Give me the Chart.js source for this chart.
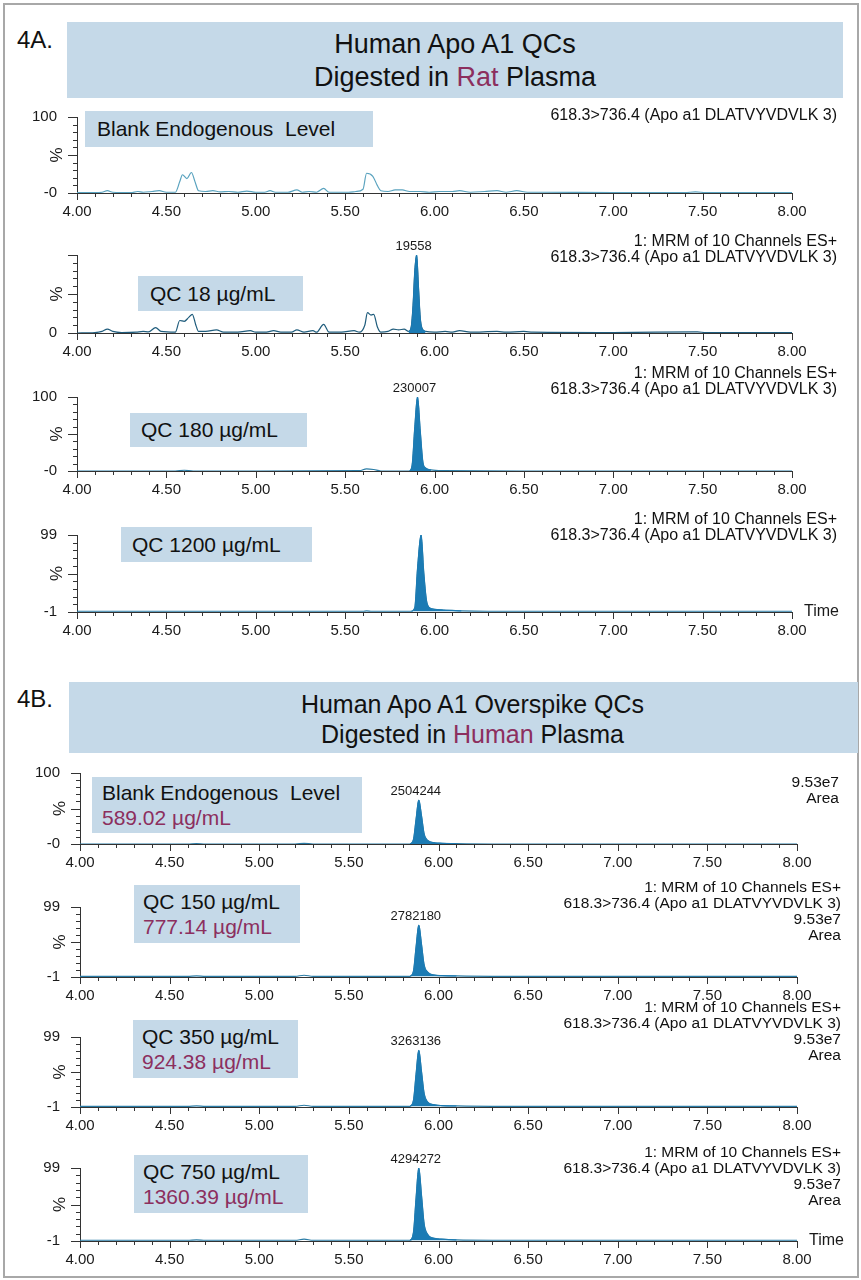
<!DOCTYPE html>
<html>
<head>
<meta charset="utf-8">
<script src="https://cdn.jsdelivr.net/npm/chart.js@4/dist/chart.umd.min.js"></script>
<style>
  body { margin: 0; background: #fff; }
  #page { position: relative; width: 861px; height: 1280px; font-family: "Liberation Sans", Arial, sans-serif; color: #111; overflow: hidden; }
  .frame { position: absolute; left: 3px; top: 3px; width: 852px; height: 1271px; border: 2px solid #a8a8a8; }
  .tag { position: absolute; font-size: 24px; line-height: 26px; }
  .titlebox { position: absolute; background: #c5d9e8; text-align: center; }
  .plum { color: #8c2f5e; }
  .lbl { position: absolute; background: #c5d9e8; font-size: 21px; box-sizing: border-box; }
  .note { position: absolute; text-align: right; line-height: 16px; white-space: nowrap; }
  canvas { position: absolute; }
</style>
</head>
<body>
<div id="page">
  <div class="frame"></div>

  <div class="tag" style="left:17px;top:27px">4A.</div>
  <div class="titlebox" style="left:67px;top:22px;width:776px;height:76px;font-size:27px;line-height:33px;padding-top:6px;box-sizing:border-box">
    <div>Human Apo A1 QCs</div>
    <div>Digested in <span class="plum">Rat</span> Plasma</div>
  </div>

  <div class="tag" style="left:17px;top:686px">4B.</div>
  <div class="titlebox" style="left:69px;top:682px;width:789px;height:71px;font-size:25px;line-height:30px;padding-top:7px;padding-left:18px;box-sizing:border-box">
    <div>Human Apo A1 Overspike QCs</div>
    <div>Digested in <span class="plum">Human</span> Plasma</div>
  </div>
</div>

<script>
// retention time (min) and relative intensity (%)
const P1_TIME = [4.00, 4.10, 4.14, 4.17, 4.20, 4.30, 4.34, 4.37, 4.42, 4.46, 4.50, 4.55, 4.575, 4.59, 4.615, 4.64, 4.66, 4.68, 4.72, 4.76, 4.80, 4.85, 4.90, 4.95, 5.00, 5.05, 5.08, 5.11, 5.18, 5.23, 5.26, 5.30, 5.34, 5.38, 5.41, 5.47, 5.52, 5.56, 5.60, 5.62, 5.655, 5.68, 5.70, 5.74, 5.78, 5.82, 5.86, 5.92, 5.97, 6.03, 6.10, 6.14, 6.20, 6.28, 6.35, 6.40, 6.46, 6.52, 6.60, 7.00, 7.40, 7.46, 7.52, 8.00];
const P1_PCT  = [0.5, 0.5, 1, 3, 1, 0.5, 2, 1, 2, 3, 1, 1, 15, 24, 19, 27, 15, 3, 2, 3, 1.5, 2, 1, 2.5, 1, 1, 3, 1, 1, 4, 1, 2, 1, 6, 1, 1, 1, 2, 5, 26, 22, 10, 3, 2, 4, 4, 2, 2, 1, 2, 2, 3, 1, 2, 3, 1, 3, 1, 1, 0.5, 0.5, 1.5, 0.5, 0.5];

const P2_TIME = [4.00, 4.10, 4.14, 4.17, 4.20, 4.25, 4.33, 4.37, 4.40, 4.44, 4.47, 4.55, 4.575, 4.60, 4.625, 4.645, 4.665, 4.68, 4.72, 4.78, 4.82, 4.90, 4.97, 5.00, 5.06, 5.10, 5.14, 5.20, 5.23, 5.27, 5.32, 5.34, 5.38, 5.41, 5.48, 5.55, 5.58, 5.61, 5.625, 5.645, 5.66, 5.68, 5.70, 5.74, 5.77, 5.80, 5.83, 5.855, 5.87, 5.88, 5.89, 5.90, 5.91, 5.92, 5.93, 5.95, 6.00, 6.06, 6.10, 6.14, 6.20, 6.35, 6.40, 6.50, 6.55, 7.00, 7.47, 7.52, 8.00];
const P2_PCT  = [0, 0.5, 2, 5, 2, 0.5, 1, 2, 1.5, 7, 2, 1, 16, 15, 20, 24, 10, 2, 2, 4, 1, 1, 3, 1, 1, 3, 1, 1, 4, 1, 3, 1, 11, 1, 1, 3, 1, 10, 26, 23, 24, 8, 1, 2, 5, 4, 5, 2, 8, 35, 80, 100, 60, 20, 6, 2, 1, 2, 1, 3, 1, 2, 1, 2, 1, 0.5, 1.5, 0.5, 0.5];

const P3_TIME = [4.00, 4.55, 4.60, 4.65, 5.00, 5.58, 5.62, 5.66, 5.70, 5.86, 5.875, 5.89, 5.905, 5.92, 5.935, 5.95, 5.98, 6.05, 6.50, 8.00];
const P3_PCT  = [0, 0, 1, 0, 0, 0.5, 3, 2, 0, 0, 8, 60, 100, 55, 12, 4, 1.5, 0.5, 0, 0];

const P4_TIME = [4.00, 5.00, 5.60, 5.62, 5.65, 5.87, 5.89, 5.905, 5.925, 5.94, 5.955, 5.97, 6.00, 6.05, 6.10, 6.15, 6.30, 8.00];
const P4_PCT  = [0, 0, 0, 0.5, 0, 0, 5, 55, 99, 50, 14, 5, 2.5, 1.5, 1, 0.5, 0, 0];

const P5_TIME = [4.00, 4.60, 4.65, 4.70, 5.20, 5.25, 5.30, 5.84, 5.86, 5.875, 5.89, 5.905, 5.92, 5.94, 5.97, 6.02, 6.10, 6.30, 8.00];
const P5_PCT  = [0, 0, 0.5, 0, 0, 1, 0, 0, 6, 35, 62, 40, 14, 5, 2, 1, 0.5, 0, 0];

const P6_TIME = [4.00, 4.60, 4.65, 4.70, 5.20, 5.25, 5.30, 5.84, 5.86, 5.875, 5.89, 5.905, 5.92, 5.94, 5.97, 6.02, 6.10, 6.30, 8.00];
const P6_PCT  = [0, 0, 0.5, 0, 0, 1.5, 0, 0, 7, 42, 73, 46, 16, 6, 2, 1, 0.5, 0, 0];

const P7_TIME = [4.00, 4.60, 4.65, 4.70, 5.20, 5.25, 5.30, 5.84, 5.86, 5.875, 5.89, 5.905, 5.92, 5.94, 5.97, 6.02, 6.10, 6.30, 8.00];
const P7_PCT  = [0, 0, 0.5, 0, 0, 1.5, 0, 0, 8, 46, 80, 50, 18, 6, 2.5, 1, 0.5, 0, 0];

const P8_TIME = [4.00, 4.60, 4.65, 4.70, 5.20, 5.25, 5.30, 5.84, 5.86, 5.875, 5.89, 5.905, 5.92, 5.94, 5.97, 6.02, 6.10, 6.30, 8.00];
const P8_PCT  = [0, 0, 0.5, 0, 0, 1.5, 0, 0, 10, 58, 99, 62, 22, 8, 3, 1.5, 0.5, 0, 0];

const X_MIN = 4, X_MAX = 8, X_STEP = 0.1;

const FONT = '"Liberation Sans", Arial, sans-serif';
const INK = "#1a1a1a";
const AXIS = "#333";
const FILL = "#1b7bb4";
const LIGHT = "#5aa3bf";
const DARK = "#1f5c7c";
const MID = "#2a7ca6";

const panels = [
  { times: P1_TIME, values: P1_PCT, top: 117, bottom: 193, left: 77, right: 792, yMin: 0, yMax: 100, minLabel: "-0", maxLabel: "100", line: LIGHT },
  { times: P2_TIME, values: P2_PCT, top: 255, bottom: 333, left: 77, right: 792, yMin: 0, yMax: 100, minLabel: "0", maxLabel: "", line: DARK, peak: [5.855, 5.96], peakText: "19558" },
  { times: P3_TIME, values: P3_PCT, top: 397, bottom: 471, left: 77, right: 792, yMin: 0, yMax: 100, minLabel: "-0", maxLabel: "100", line: MID, peak: [5.86, 6.0], peakText: "230007" },
  { times: P4_TIME, values: P4_PCT, top: 535, bottom: 612, left: 77, right: 792, yMin: -1, yMax: 99, minLabel: "-1", maxLabel: "99", line: MID, peak: [5.87, 6.15], time: true },
  { times: P5_TIME, values: P5_PCT, top: 773, bottom: 844, left: 80, right: 797, yMin: 0, yMax: 100, minLabel: "-0", maxLabel: "100", line: MID, peak: [5.84, 6.10], peakText: "2504244" },
  { times: P6_TIME, values: P6_PCT, top: 907, bottom: 977, left: 80, right: 797, yMin: -1, yMax: 99, minLabel: "-1", maxLabel: "99", line: MID, peak: [5.84, 6.10], peakText: "2782180" },
  { times: P7_TIME, values: P7_PCT, top: 1037, bottom: 1107, left: 80, right: 797, yMin: -1, yMax: 99, minLabel: "-1", maxLabel: "99", line: MID, peak: [5.84, 6.10], peakText: "3263136" },
  { times: P8_TIME, values: P8_PCT, top: 1168, bottom: 1241, left: 80, right: 797, yMin: -1, yMax: 99, minLabel: "-1", maxLabel: "99", line: MID, peak: [5.84, 6.10], peakText: "4294272", time: true }
];

// sample label boxes and the instrument text at the right of every trace
const boxes = [
  { x: 85, y: 111, w: 288, h: 36, pad: 12, lines: ["Blank Endogenous&nbsp; Level"] },
  { x: 138, y: 276, w: 165, h: 35, pad: 12, lines: ["QC 18 µg/mL"] },
  { x: 130, y: 413, w: 177, h: 34, pad: 11, lines: ["QC 180 µg/mL"] },
  { x: 121, y: 527, w: 191, h: 35, pad: 11, lines: ["QC 1200 µg/mL"] },
  { x: 92, y: 777, w: 270, h: 56, pad: 10, lines: ["Blank Endogenous&nbsp; Level", "589.02 µg/mL"] },
  { x: 134, y: 885, w: 166, h: 58, pad: 9, lines: ["QC 150 µg/mL", "777.14 µg/mL"] },
  { x: 133, y: 1020, w: 165, h: 58, pad: 9, lines: ["QC 350 µg/mL", "924.38 µg/mL"] },
  { x: 134, y: 1155, w: 174, h: 58, pad: 9, lines: ["QC 750 µg/mL", "1360.39 µg/mL"] }
];
const MRM = "1: MRM of 10 Channels ES+";
const SRM = "618.3&gt;736.4 (Apo a1 DLATVYVDVLK 3)";
const notes = [
  { right: 24, y: 107, size: 16, lines: [SRM] },
  { right: 24, y: 233, size: 16, lines: [MRM, SRM] },
  { right: 24, y: 365, size: 16, lines: [MRM, SRM] },
  { right: 24, y: 511, size: 16, lines: [MRM, SRM] },
  { right: 22, y: 774, size: 15.5, lines: ["9.53e7", "Area"] },
  { right: 20, y: 879, size: 15.5, lines: [MRM, SRM, "9.53e7", "Area"] },
  { right: 20, y: 999, size: 15.5, lines: [MRM, SRM, "9.53e7", "Area"] },
  { right: 20, y: 1144, size: 15.5, lines: [MRM, SRM, "9.53e7", "Area"] }
];

const page = document.getElementById("page");

function isHalf(v) {
  return Math.abs(v * 2 - Math.round(v * 2)) < 1e-6;
}

// tick marks of different lengths, the rotated % sign and the "Time" tag
const axisTicks = {
  id: "axisTicks",
  afterDraw(chart, args, opts) {
    const { ctx, chartArea, scales: { x, y } } = chart;
    ctx.save();
    ctx.strokeStyle = AXIS;
    ctx.lineWidth = 1;
    ctx.beginPath();
    x.ticks.forEach((t) => {
      const px = Math.round(x.getPixelForValue(t.value)) + 0.5;
      const len = isHalf(t.value) ? 7 : 4;
      ctx.moveTo(px, chartArea.bottom);
      ctx.lineTo(px, chartArea.bottom + len);
    });
    y.ticks.forEach((t) => {
      const py = Math.round(y.getPixelForValue(t.value)) + 0.5;
      const k = Math.round(t.value - y.min);
      const len = k % 50 === 0 ? 9 : 4;
      ctx.moveTo(chartArea.left, py);
      ctx.lineTo(chartArea.left - len, py);
    });
    ctx.stroke();

    ctx.fillStyle = INK;
    ctx.font = "17px " + FONT;
    ctx.textAlign = "center";
    ctx.textBaseline = "middle";
    ctx.save();
    ctx.translate(chartArea.left - 20, (chartArea.top + chartArea.bottom) / 2);
    ctx.rotate(-Math.PI / 2);
    ctx.fillText("%", 0, 0);
    ctx.restore();

    if (opts.time) {
      ctx.font = "16px " + FONT;
      ctx.textAlign = "left";
      ctx.fillText("Time", chartArea.right + 12, chartArea.bottom);
    }
    ctx.restore();
  }
};

// peak area value written above the apex of the integrated peak
const peakLabel = {
  id: "peakLabel",
  afterDatasetsDraw(chart, args, opts) {
    if (!opts.text) return;
    const pts = chart.data.datasets[0].data;
    if (!pts.length) return;
    let k = 0;
    pts.forEach((d, i) => { if (d.y > pts[k].y) k = i; });
    const el = chart.getDatasetMeta(0).data[k];
    const ctx = chart.ctx;
    ctx.save();
    ctx.fillStyle = INK;
    ctx.font = "13px " + FONT;
    ctx.textAlign = "center";
    ctx.textBaseline = "bottom";
    ctx.fillText(opts.text, el.x - 3, el.y - 2);
    ctx.restore();
  }
};

function makePanel(p) {
  const padTop = 22, axisH = 32;
  const c = document.createElement("canvas");
  c.width = 861;
  c.height = padTop + (p.bottom - p.top) + axisH;
  c.style.left = "0px";
  c.style.top = (p.top - padTop) + "px";
  page.appendChild(c);

  const pts = p.times.map((t, i) => ({ x: t, y: p.values[i] }));
  const peakPts = p.peak ? pts.filter((q) => q.x >= p.peak[0] && q.x <= p.peak[1]) : [];

  new Chart(c, {
    type: "line",
    data: {
      datasets: [
        { data: peakPts, borderColor: FILL, backgroundColor: FILL, borderWidth: 1, fill: "origin", pointRadius: 0, cubicInterpolationMode: "monotone" },
        { data: pts, borderColor: p.line, borderWidth: 1.2, fill: false, pointRadius: 0, cubicInterpolationMode: "monotone" }
      ]
    },
    options: {
      responsive: false,
      animation: false,
      devicePixelRatio: 1,
      layout: { padding: { left: 0, right: 861 - p.right, top: padTop, bottom: 0 } },
      plugins: {
        legend: { display: false },
        tooltip: { enabled: false },
        peakLabel: { text: p.peakText || null },
        axisTicks: { time: !!p.time }
      },
      scales: {
        x: {
          type: "linear",
          min: X_MIN,
          max: X_MAX,
          grid: { display: false },
          border: { display: true, color: AXIS, width: 1 },
          ticks: {
            stepSize: X_STEP,
            autoSkip: false,
            maxRotation: 0,
            padding: 2,
            color: INK,
            font: { size: 15, family: FONT },
            callback: (v) => (isHalf(v) ? v.toFixed(2) : "")
          },
          afterFit: (s) => { s.height = axisH; }
        },
        y: {
          min: p.yMin,
          max: p.yMax,
          grid: { display: false },
          border: { display: true, color: AXIS, width: 1 },
          ticks: {
            stepSize: 10,
            autoSkip: false,
            padding: 12,
            color: INK,
            font: { size: 15, family: FONT },
            callback: (v) => (v === p.yMax ? p.maxLabel : v === p.yMin ? p.minLabel : "")
          },
          afterFit: (s) => { s.width = p.left; }
        }
      }
    },
    plugins: [axisTicks, peakLabel]
  });
}

panels.forEach(makePanel);

boxes.forEach((b) => {
  const d = document.createElement("div");
  d.className = "lbl";
  d.style.cssText = `left:${b.x}px;top:${b.y}px;width:${b.w}px;height:${b.h}px;padding-left:${b.pad}px;` +
    "display:flex;flex-direction:column;justify-content:center;line-height:" + (b.lines.length > 1 ? "25px" : "26px");
  d.innerHTML = b.lines.map((t, i) => `<div${i ? ' class="plum"' : ""}>${t}</div>`).join("");
  page.appendChild(d);
});

notes.forEach((n) => {
  const d = document.createElement("div");
  d.className = "note";
  d.style.right = n.right + "px";
  d.style.top = n.y + "px";
  d.style.fontSize = n.size + "px";
  d.innerHTML = n.lines.join("<br>");
  page.appendChild(d);
});
</script>
</body>
</html>
